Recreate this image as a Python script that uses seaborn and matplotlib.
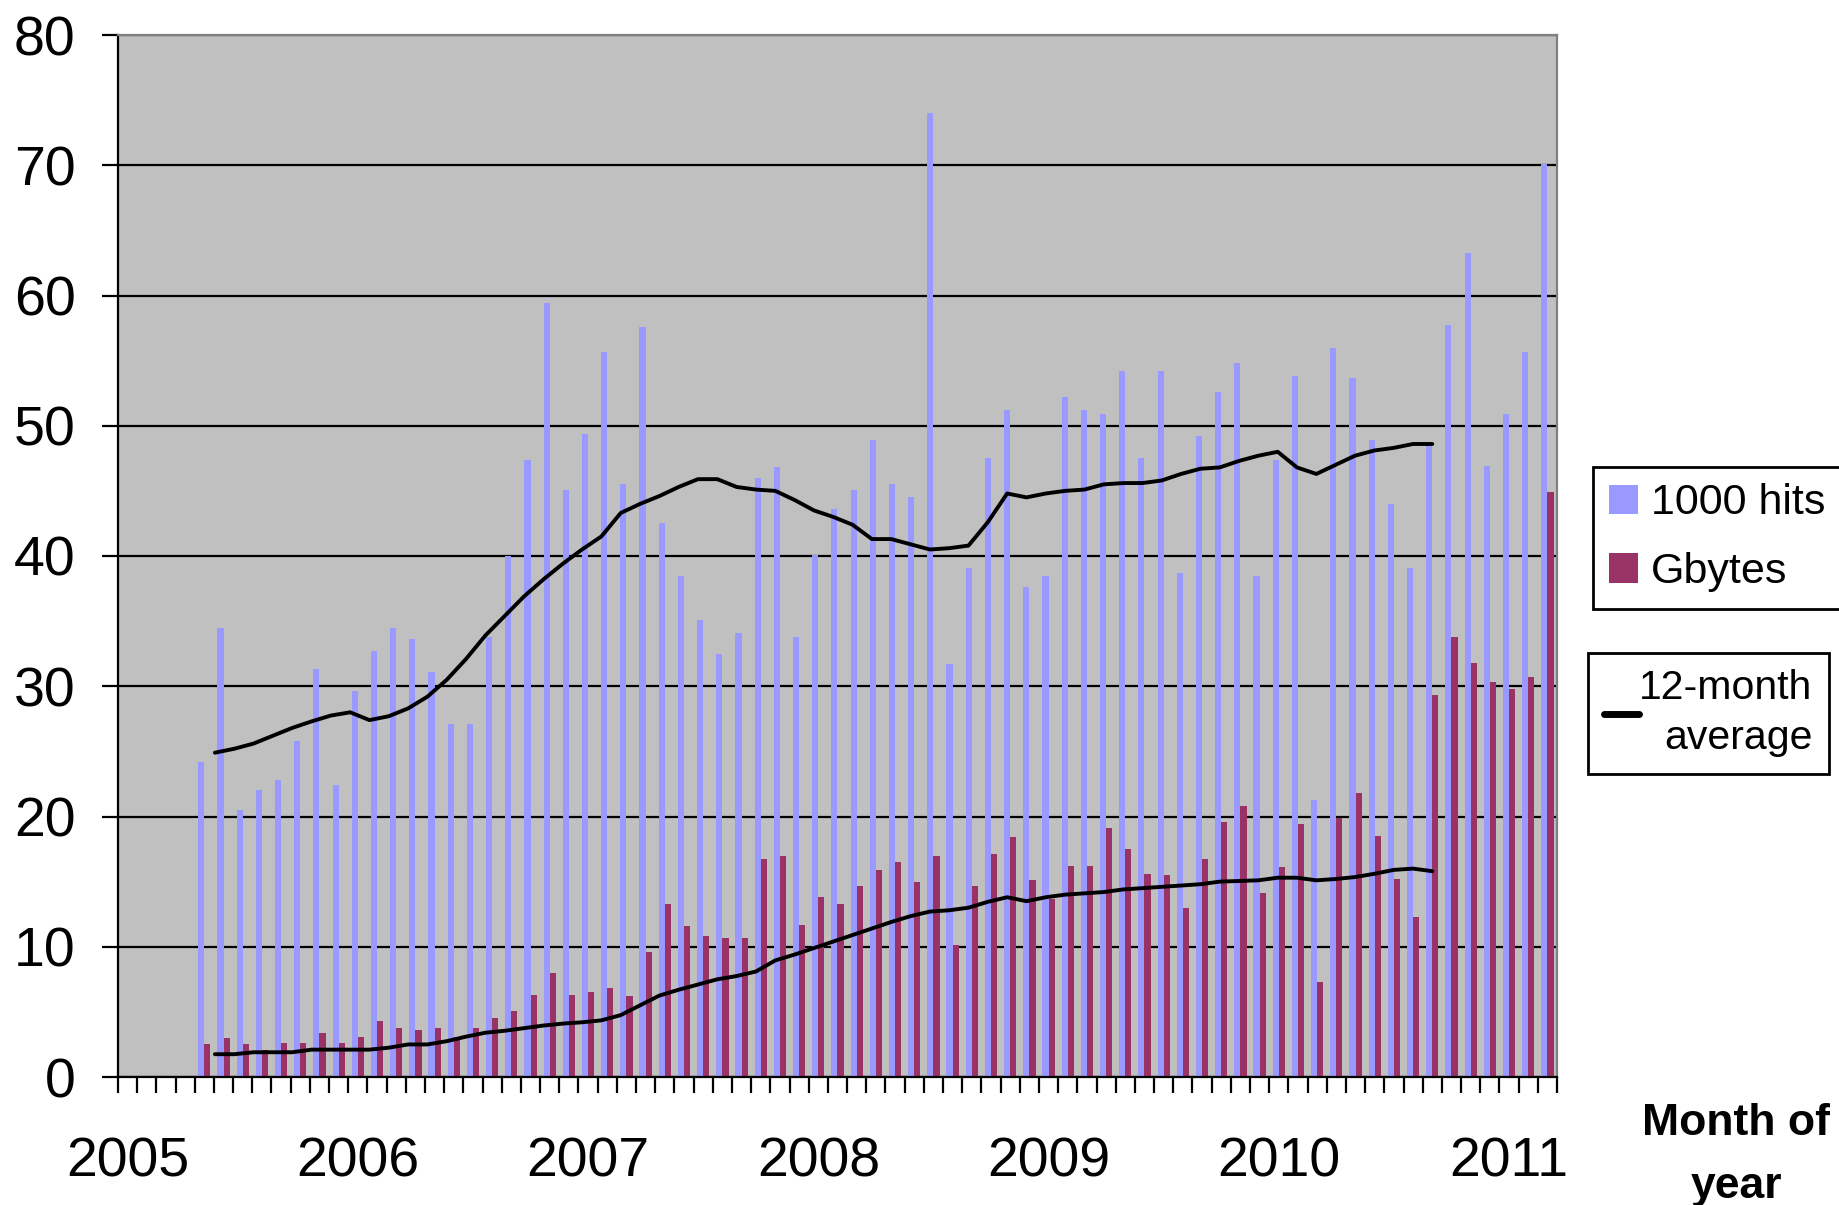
import numpy as np
import pandas as pd
import matplotlib
matplotlib.use("Agg")
import matplotlib.pyplot as plt
import seaborn as sns
from matplotlib.patches import Patch
from matplotlib.lines import Line2D

# ---- data -------------------------------------------------------------
# Category axis: one slot per month, January 2005 to March 2011
years = [2005, 2006, 2007, 2008, 2009, 2010, 2011]
months = [f"{y}-{m:02d}" for y in years for m in range(1, 13)][:75]
year_labels = [str(y) for y in years]

# Monthly totals, May 2005 onward
hits_k = [
    24.2, 34.5, 20.5, 22.0, 22.8, 25.8, 31.3, 22.4,                      # 2005
    29.6, 32.7, 34.5, 33.6, 31.1, 27.1, 27.1, 33.8, 40.0, 47.4, 59.4, 45.1,  # 2006
    49.4, 55.7, 45.5, 57.6, 42.5, 38.5, 35.1, 32.5, 34.1, 46.0, 46.8, 33.8,  # 2007
    40.1, 43.6, 45.1, 48.9, 45.5, 44.5, 74.0, 31.7, 39.1, 47.5, 51.2, 37.6,  # 2008
    38.5, 52.2, 51.2, 50.9, 54.2, 47.5, 54.2, 38.7, 49.2, 52.6, 54.8, 38.5,  # 2009
    47.4, 53.8, 21.3, 56.0, 53.7, 48.9, 44.0, 39.1, 48.7, 57.7, 63.3, 46.9,  # 2010
    50.9, 55.7, 70.1,                                                    # 2011
]
gbytes = [
    2.5, 3.0, 2.5, 2.1, 2.6, 2.6, 3.4, 2.6,
    3.1, 4.3, 3.8, 3.6, 3.8, 3.1, 3.8, 4.5, 5.1, 6.3, 8.0, 6.3,
    6.5, 6.8, 6.2, 9.6, 13.3, 11.6, 10.8, 10.7, 10.7, 16.7, 17.0, 11.7,
    13.8, 13.3, 14.7, 15.9, 16.5, 15.0, 17.0, 10.1, 14.7, 17.1, 18.4, 15.1,
    13.7, 16.2, 16.2, 19.1, 17.5, 15.6, 15.5, 13.0, 16.7, 19.6, 20.8, 14.1,
    16.1, 19.4, 7.3, 19.9, 21.8, 18.5, 15.2, 12.3, 29.3, 33.8, 31.8, 30.3,
    29.8, 30.7, 44.9,
]
first_month = "2005-05"

# 12-month running averages, sampled evenly from early June 2005 to September 2010
avg_hits = [
    24.9, 25.2, 25.6, 26.2, 26.8, 27.3, 27.75, 28.0, 27.4, 27.7,
    28.3, 29.2, 30.5, 32.1, 33.9, 35.4, 36.9, 38.2, 39.4, 40.5,
    41.5, 43.3, 44.0, 44.6, 45.3, 45.9, 45.9, 45.3, 45.1, 45.0,
    44.3, 43.5, 43.0, 42.4, 41.3, 41.3, 40.9, 40.5, 40.6, 40.8,
    42.6, 44.8, 44.5, 44.8, 45.0, 45.1, 45.5, 45.6, 45.6, 45.8,
    46.3, 46.7, 46.8, 47.3, 47.7, 48.0, 46.8, 46.3, 47.0, 47.7,
    48.1, 48.3, 48.6, 48.6,
]
avg_gbytes = [
    1.75, 1.75, 1.9, 1.9, 1.9, 2.1, 2.1, 2.1, 2.1, 2.25,
    2.5, 2.5, 2.75, 3.1, 3.4, 3.55, 3.75, 3.95, 4.1, 4.2,
    4.35, 4.75, 5.5, 6.25, 6.7, 7.1, 7.5, 7.75, 8.1, 8.95,
    9.4, 9.9, 10.4, 10.9, 11.4, 11.9, 12.35, 12.7, 12.8, 13.0,
    13.45, 13.8, 13.5, 13.8, 14.0, 14.1, 14.2, 14.4, 14.5, 14.6,
    14.7, 14.8, 15.0, 15.05, 15.1, 15.3, 15.3, 15.1, 15.2, 15.35,
    15.6, 15.9, 16.0, 15.8,
]
avg_start, avg_end = 4.55, 68.0   # month index span covered by the running averages

series_names = ["1000 hits", "Gbytes"]
colors = {"1000 hits": "#9999FF", "Gbytes": "#993366"}

# ---- tidy table for seaborn -------------------------------------------
start = months.index(first_month)
data_months = months[start:start + len(hits_k)]
df = pd.concat([
    pd.DataFrame({"month": data_months, "value": hits_k, "series": "1000 hits"}),
    pd.DataFrame({"month": data_months, "value": gbytes, "series": "Gbytes"}),
], ignore_index=True)

# ---- style ------------------------------------------------------------
sns.set_theme(style="ticks", rc={
    "text.color": "black", "xtick.color": "black", "ytick.color": "black",
    "axes.edgecolor": "black", "axes.labelcolor": "black",
})
plt.rcParams["font.family"] = ["Liberation Sans", "DejaVu Sans"]

W, H = 1839, 1205
fig = plt.figure(figsize=(W / 100, H / 100), dpi=100)
ax = fig.add_axes([118 / W, 1 - 1077 / H, (1557 - 118) / W, (1077 - 35) / H])
ax.set_facecolor("#C0C0C0")

sns.barplot(data=df, x="month", y="value", hue="series", order=months,
            hue_order=series_names, palette=colors, width=0.64, gap=0,
            saturation=1, errorbar=None, linewidth=0, legend=False, ax=ax)

avg_x = np.linspace(avg_start, avg_end, len(avg_hits))
for avg in (avg_hits, avg_gbytes):
    sns.lineplot(x=avg_x, y=avg, color="black", linewidth=2.8, sort=False,
                 estimator=None, legend=False, ax=ax)

# ---- axes -------------------------------------------------------------
ax.set_xlim(-0.5, len(months) - 0.5)
ax.set_ylim(0, 80)
ax.set_yticks(range(0, 81, 10))
ax.yaxis.grid(True, color="black", linewidth=1.6)
ax.xaxis.grid(False)
ax.set_axisbelow(True)

year_pos = [months.index(f"{y}-01") for y in years]
ax.set_xticks(year_pos)
ax.set_xticklabels(year_labels)
ax.set_xticks(np.arange(-0.5, len(months), 1.0), minor=True)
ax.tick_params(axis="x", which="major", length=0, pad=43, labelsize=40)
ax.tick_params(axis="x", which="minor", length=11.5, width=1.6, direction="out")
ax.tick_params(axis="y", which="major", length=11.5, width=1.6, direction="out",
               pad=19, labelsize=40)
ax.set_xlabel("")
ax.set_ylabel("")

for side in ("left", "bottom"):
    ax.spines[side].set_color("black")
    ax.spines[side].set_linewidth(1.6)
for side in ("top", "right"):
    ax.spines[side].set_visible(True)
    ax.spines[side].set_color("#808080")
    ax.spines[side].set_linewidth(1.6)

# axis caption, bottom right
fig.text(1736 / W, 1 - 1135 / H, "Month of", ha="center", va="baseline",
         fontsize=32, fontweight="bold")
fig.text(1736 / W, 1 - 1198 / H, "year", ha="center", va="baseline",
         fontsize=32, fontweight="bold")

# ---- legends ----------------------------------------------------------
bar_handles = [Patch(facecolor=colors[s], edgecolor="none", label=s) for s in series_names]
leg1 = fig.legend(handles=bar_handles, loc="upper left",
                  bbox_to_anchor=(1593 / W, 1 - 467 / H), borderaxespad=0,
                  fontsize=31, handlelength=0.67, handleheight=0.67,
                  handletextpad=0.30, borderpad=0.38, labelspacing=0.67,
                  frameon=True, fancybox=False, framealpha=1,
                  edgecolor="black", facecolor="white")
leg1.get_frame().set_linewidth(2.0)

line_handle = [Line2D([], [], color="black", linewidth=5, label="12-month\naverage")]
leg2 = fig.legend(handles=line_handle, loc="upper left",
                  bbox_to_anchor=(1588 / W, 1 - 653 / H), borderaxespad=0,
                  fontsize=29.5, handlelength=0.85, handletextpad=0.0,
                  borderpad=0.4, frameon=True, fancybox=False, framealpha=1,
                  edgecolor="black", facecolor="white")
leg2.get_frame().set_linewidth(2.0)
for t in leg2.get_texts():
    t.set_multialignment("right")
    t.set_linespacing(1.4)

fig.savefig("out.png", dpi=100)
